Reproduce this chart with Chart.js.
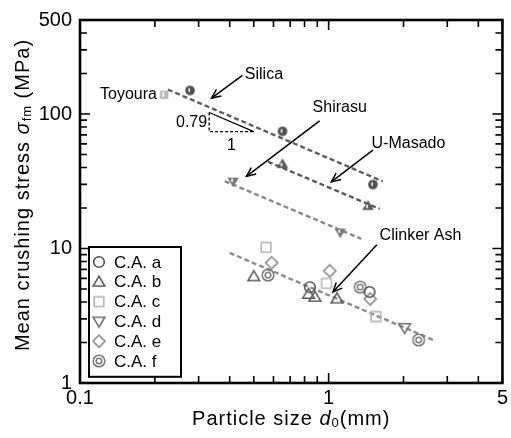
<!DOCTYPE html>
<html>
<head>
<meta charset="utf-8">
<script src="https://cdn.jsdelivr.net/npm/chart.js@4.4.1/dist/chart.umd.min.js"></script>
<style>
  html, body { margin: 0; padding: 0; background: #fff; }
  #wrap { width: 511px; height: 438px; position: relative; }
</style>
</head>
<body>
<div id="wrap"><canvas id="c"></canvas></div>
<script>
// ---- Axis ticks -------------------------------------------------------
const xTickVals  = [0.1, 0.2, 0.3, 0.4, 0.5, 0.6, 0.7, 0.8, 0.9, 1, 2, 3, 4, 5];
const xLabelVals = [0.1, 1, 5];
const yTickVals  = [1, 2, 3, 4, 5, 6, 7, 8, 9, 10, 20, 30, 40, 50, 60, 70, 80, 90, 100, 200, 300, 400, 500];
const yLabelVals = [1, 10, 100, 500];

// ---- Clinker ash samples (particle size mm, crushing stress MPa) -------
const caA_d = [0.84, 1.46];
const caA_s = [5.16, 4.75];
const caB_d = [0.50, 0.83, 0.88, 1.08];
const caB_s = [6.2, 4.59, 4.37, 4.24];
const caC_d = [0.56, 0.98, 1.55];
const caC_s = [10.2, 5.5, 3.12];
const caD_d = [2.02];
const caD_s = [2.57];
const caE_d = [0.59, 1.01, 1.47];
const caE_s = [7.84, 6.83, 4.22];
const caF_d = [0.57, 1.34, 2.30];
const caF_s = [6.34, 5.16, 2.09];

// ---- Reference sands ---------------------------------------------------
const silica_d  = [0.277, 0.652, 1.507];
const silica_s  = [149.6, 74.3, 29.9];
const toyoura_d = [0.218];
const toyoura_s = [139];
const masado_d  = [0.652, 1.44];
const masado_s  = [42.6, 20.8];
const shirasu_d = [0.413, 1.114];
const shirasu_s = [31.3, 13.1];

// ---- Fitted trend lines (end points) -----------------------------------
const silicaFit_d  = [0.2256, 1.648];
const silicaFit_s  = [152, 31.6];
const masadoFit_d  = [0.570, 1.603];
const masadoFit_s  = [44.2, 19.7];
const shirasuFit_d = [0.382, 1.352];
const shirasuFit_s = [31.7, 11.8];
const clinkerFit_d = [0.400, 2.665];
const clinkerFit_s = [9.28, 2.07];

// slope of the size effect shown by the small triangle
const slopeValue = 0.79;
const slopeBase_d = [0.3307, 0.5];
const slopeBase_s = 74.0;

const FONT = "'Liberation Sans', Arial, Helvetica, sans-serif";

function pts(xs, ys) { return xs.map((x, i) => ({ x: x, y: ys[i] })); }

// ---- Marker glyphs -----------------------------------------------------
function marker(kind, color) {
  const S = 18, c = S / 2;
  const cv = document.createElement('canvas');
  cv.width = S; cv.height = S;
  const g = cv.getContext('2d');
  g.strokeStyle = color; g.fillStyle = color; g.lineWidth = 1.6;
  g.lineJoin = 'miter';
  const tri = (down) => {
    const h = 5.6, w = 5.8;
    g.beginPath();
    if (!down) { g.moveTo(c, c - h); g.lineTo(c + w, c + h * 0.75); g.lineTo(c - w, c + h * 0.75); }
    else { g.moveTo(c, c + h); g.lineTo(c + w, c - h * 0.75); g.lineTo(c - w, c - h * 0.75); }
    g.closePath();
  };
  switch (kind) {
    case 'circle':
      g.beginPath(); g.arc(c, c, 5.3, 0, Math.PI * 2); g.stroke(); break;
    case 'triangle':
      tri(false); g.stroke(); break;
    case 'tridown':
      tri(true); g.stroke(); break;
    case 'square':
      g.strokeRect(c - 4.8, c - 4.8, 9.6, 9.6); break;
    case 'diamond':
      g.beginPath(); g.moveTo(c, c - 6); g.lineTo(c + 6, c); g.lineTo(c, c + 6); g.lineTo(c - 6, c); g.closePath(); g.stroke(); break;
    case 'double':
      g.lineWidth = 1.5;
      g.beginPath(); g.arc(c, c, 5.8, 0, Math.PI * 2); g.stroke();
      g.beginPath(); g.arc(c, c, 2.8, 0, Math.PI * 2); g.stroke(); break;
    case 'solidCircle':
      g.beginPath(); g.arc(c, c, 4.8, 0, Math.PI * 2); g.fill();
      g.fillStyle = '#fff'; g.fillRect(c - 1.6, c - 2.2, 1.6, 3.6); break;
    case 'solidTriangle':
      tri(false); g.fill();
      g.fillStyle = '#fff'; g.fillRect(c - 1.8, c - 1, 1.6, 3.4); break;
    case 'solidTridown':
      tri(true); g.fill();
      g.fillStyle = '#fff'; g.fillRect(c - 1.8, c - 3.2, 1.6, 3.2); break;
    case 'solidSquare':
      g.fillRect(c - 4.2, c - 4.2, 8.4, 8.4);
      g.fillStyle = '#fff'; g.fillRect(c - 1.8, c - 2.6, 1.8, 4.6); break;
  }
  return cv;
}

const M = {
  a: marker('circle', '#505050'),
  b: marker('triangle', '#5a5a5a'),
  c: marker('square', '#b4b4b4'),
  d: marker('tridown', '#707070'),
  e: marker('diamond', '#8a8a8a'),
  f: marker('double', '#767676'),
  silica: marker('solidCircle', '#505050'),
  masado: marker('solidTriangle', '#5a5a5a'),
  shirasu: marker('solidTridown', '#7a7a7a'),
  toyoura: marker('solidSquare', '#b8b8b8')
};

function scatterSet(label, xs, ys, img, inLegend) {
  return {
    type: 'scatter', label: label, data: pts(xs, ys),
    pointStyle: img, pointRadius: 6, showLine: false, inLegend: inLegend, order: 1
  };
}
function fitSet(label, xs, ys, color) {
  return {
    type: 'line', label: label, data: pts(xs, ys),
    borderColor: color, borderWidth: 2.4, borderDash: [5, 3],
    pointRadius: 0, fill: false, tension: 0, inLegend: false, order: 2
  };
}

const datasets = [
  fitSet('Silica fit', silicaFit_d, silicaFit_s, '#5e5e5e'),
  fitSet('U-Masado fit', masadoFit_d, masadoFit_s, '#5a5a5a'),
  fitSet('Shirasu fit', shirasuFit_d, shirasuFit_s, '#8a8a8a'),
  fitSet('Clinker Ash fit', clinkerFit_d, clinkerFit_s, '#8c8c8c'),
  scatterSet('Silica', silica_d, silica_s, M.silica, false),
  scatterSet('Toyoura', toyoura_d, toyoura_s, M.toyoura, false),
  scatterSet('U-Masado', masado_d, masado_s, M.masado, false),
  scatterSet('Shirasu', shirasu_d, shirasu_s, M.shirasu, false),
  scatterSet('C.A. a', caA_d, caA_s, M.a, true),
  scatterSet('C.A. b', caB_d, caB_s, M.b, true),
  scatterSet('C.A. c', caC_d, caC_s, M.c, true),
  scatterSet('C.A. d', caD_d, caD_s, M.d, true),
  scatterSet('C.A. e', caE_d, caE_s, M.e, true),
  scatterSet('C.A. f', caF_d, caF_s, M.f, true)
];

// Text labels with arrows, positioned in data coordinates
const notes = [
  { text: 'Toyoura', x: 0.204, y: 140, align: 'right' },
  { text: 'Silica', x: 0.46, y: 195, align: 'left', from: [0.450, 194], to: [0.338, 131.4] },
  { text: 'Shirasu', x: 0.862, y: 111, align: 'left', from: [0.920, 88.9], to: [0.467, 34.4] },
  { text: 'U-Masado', x: 1.488, y: 60.5, align: 'left', from: [1.506, 53.8], to: [1.025, 31.3] },
  { text: 'Clinker Ash', x: 1.603, y: 12.5, align: 'left', from: [1.563, 10.66], to: [1.041, 4.75] }
];

// Draws a run of text pieces with different styles
function richWidth(ctx, parts) {
  let w = 0;
  parts.forEach(p => { ctx.font = p.font; w += ctx.measureText(p.t).width; });
  return w;
}
function drawRich(ctx, parts, x, y) {
  let w = richWidth(ctx, parts);
  let cx = x - w / 2;
  parts.forEach(p => {
    ctx.font = p.font;
    ctx.fillText(p.t, cx, y + (p.dy || 0));
    cx += ctx.measureText(p.t).width;
  });
}

function arrow(ctx, x1, y1, x2, y2) {
  ctx.beginPath(); ctx.moveTo(x1, y1); ctx.lineTo(x2, y2); ctx.stroke();
  const a = Math.atan2(y2 - y1, x2 - x1), L = 10, s = 0.42;
  ctx.beginPath();
  ctx.moveTo(x2 - L * Math.cos(a - s), y2 - L * Math.sin(a - s));
  ctx.lineTo(x2, y2);
  ctx.lineTo(x2 - L * Math.cos(a + s), y2 - L * Math.sin(a + s));
  ctx.stroke();
}

const decorations = {
  id: 'decorations',
  afterDatasetsDraw(chart) {
    const ctx = chart.ctx, a = chart.chartArea;
    const xs = chart.scales.x, ys = chart.scales.y;
    const X = v => xs.getPixelForValue(v), Y = v => ys.getPixelForValue(v);
    const isDecade = v => Math.abs(Math.log10(v) - Math.round(Math.log10(v))) < 1e-9;
    ctx.save();

    // inward tick marks on all four sides
    ctx.strokeStyle = '#000'; ctx.lineWidth = 1.6;
    ctx.beginPath();
    xTickVals.forEach(v => {
      const p = X(v), L = isDecade(v) ? 10 : 7;
      ctx.moveTo(p, a.bottom); ctx.lineTo(p, a.bottom - L);
      ctx.moveTo(p, a.top); ctx.lineTo(p, a.top + L);
    });
    yTickVals.forEach(v => {
      const p = Y(v), L = isDecade(v) ? 10 : 7;
      ctx.moveTo(a.left, p); ctx.lineTo(a.left + L, p);
      ctx.moveTo(a.right, p); ctx.lineTo(a.right - L, p);
    });
    ctx.stroke();

    // plot frame
    ctx.lineWidth = 2.6;
    ctx.strokeRect(a.left, a.top, a.right - a.left, a.bottom - a.top);

    // slope triangle
    const sx1 = X(slopeBase_d[0]), sx2 = X(slopeBase_d[1]);
    const topS = slopeBase_s * Math.pow(slopeBase_d[1] / slopeBase_d[0], slopeValue);
    const sy1 = Y(topS), sy2 = Y(slopeBase_s);
    ctx.lineWidth = 1.3;
    ctx.setLineDash([3, 2]);
    ctx.beginPath();
    ctx.moveTo(sx1, sy1); ctx.lineTo(sx1, sy2); ctx.lineTo(sx2, sy2);
    ctx.stroke();
    ctx.setLineDash([]);
    ctx.beginPath(); ctx.moveTo(sx1, sy1); ctx.lineTo(sx2, sy2); ctx.stroke();
    ctx.fillStyle = '#000';
    ctx.font = '16px ' + FONT;
    ctx.textBaseline = 'middle';
    ctx.textAlign = 'right';
    ctx.fillText(String(slopeValue), sx1 - 2, (sy1 + sy2) / 2 + 1);
    ctx.textAlign = 'center';
    ctx.fillText('1', (sx1 + sx2) / 2, sy2 + 14);

    // notes and arrows
    ctx.lineWidth = 1.5;
    notes.forEach(n => {
      ctx.textAlign = n.align;
      ctx.fillText(n.text, X(n.x), Y(n.y));
      if (n.from) arrow(ctx, X(n.from[0]), Y(n.from[1]), X(n.to[0]), Y(n.to[1]));
    });

    // legend box
    const lx = a.left + 9, ly = 247, lw = 92, rowH = 19.8;
    const items = chart.data.datasets.filter(d => d.inLegend);
    const lh = items.length * rowH + 11;
    ctx.fillStyle = '#fff';
    ctx.fillRect(lx, ly, lw, lh);
    ctx.lineWidth = 2; ctx.strokeStyle = '#000';
    ctx.strokeRect(lx, ly, lw, lh);
    ctx.font = '17px ' + FONT;
    ctx.textAlign = 'left';
    ctx.fillStyle = '#000';
    items.forEach((d, i) => {
      const cy = ly + 15 + i * rowH;
      const img = d.pointStyle;
      ctx.drawImage(img, lx + 9 - img.width / 2 + 1, cy - img.height / 2);
      ctx.fillText(d.label, lx + 25, cy + 1);
    });

    // axis titles
    ctx.fillStyle = '#000';
    ctx.textBaseline = 'middle';
    ctx.letterSpacing = '1px';
    drawRich(ctx, [
      { t: 'Particle size ', font: '20px ' + FONT },
      { t: 'd', font: 'italic 20px ' + FONT },
      { t: '0', font: '13px ' + FONT, dy: 4 },
      { t: '(mm)', font: '20px ' + FONT }
    ], (a.left + a.right) / 2, 419);

    ctx.save();
    ctx.translate(23, 195);
    ctx.rotate(-Math.PI / 2);
    drawRich(ctx, [
      { t: 'Mean crushing stress ', font: '20px ' + FONT },
      { t: 'σ', font: 'italic 20px ' + FONT },
      { t: 'fm', font: '13px ' + FONT, dy: 4 },
      { t: ' (MPa)', font: '20px ' + FONT }
    ], 0, 0);
    ctx.restore();
    ctx.letterSpacing = '0px';

    ctx.restore();
  }
};

new Chart(document.getElementById('c'), {
  type: 'scatter',
  data: { datasets: datasets },
  options: {
    responsive: true,
    maintainAspectRatio: false,
    animation: false,
    layout: { padding: { top: 12, right: 8, left: 0, bottom: 0 } },
    plugins: { legend: { display: false }, tooltip: { enabled: false } },
    scales: {
      x: {
        type: 'logarithmic', min: 0.1, max: 5,
        grid: { display: false, drawTicks: false },
        border: { display: false },
        afterBuildTicks: s => { s.ticks = xTickVals.map(v => ({ value: v })); },
        afterFit: s => { s.height = 55; },
        ticks: {
          autoSkip: false, maxRotation: 0, padding: 3, color: '#000',
          font: { family: FONT, size: 20 },
          callback: v => xLabelVals.includes(v) ? String(v) : ''
        }
      },
      y: {
        type: 'logarithmic', min: 1, max: 500,
        grid: { display: false, drawTicks: false },
        border: { display: false },
        afterBuildTicks: s => { s.ticks = yTickVals.map(v => ({ value: v })); },
        afterFit: s => { s.width = 80; },
        ticks: {
          autoSkip: false, padding: 8, color: '#000',
          font: { family: FONT, size: 20 },
          callback: v => yLabelVals.includes(v) ? String(v) : ''
        }
      }
    }
  },
  plugins: [decorations]
});
</script>
</body>
</html>
